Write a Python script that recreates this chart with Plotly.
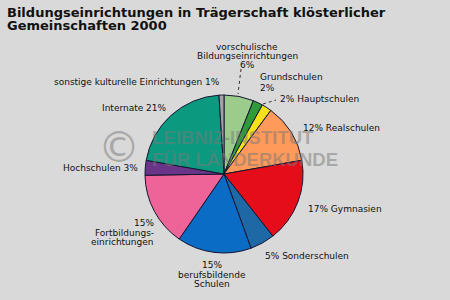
import plotly.graph_objects as go

W, H = 450, 300

categories = ["vorschulische Bildungseinrichtungen", "Grundschulen", "Hauptschulen",
              "Realschulen", "Gymnasien", "Sonderschulen", "berufsbildende Schulen",
              "Fortbildungseinrichtungen", "Hochschulen", "Internate",
              "sonstige kulturelle Einrichtungen"]
values = [6, 2, 2, 12, 17, 5, 15, 15, 3, 21, 1]
label_lines = [
    ["vorschulische", "Bildungseinrichtungen", "{v}%"],
    ["Grundschulen", "{v}%"],
    ["{v}% Hauptschulen"],
    ["{v}% Realschulen"],
    ["{v}% Gymnasien"],
    ["{v}% Sonderschulen"],
    ["{v}%", "berufsbildende", "Schulen"],
    ["{v}%", "Fortbildungs-", "einrichtungen"],
    ["Hochschulen {v}%"],
    ["Internate {v}%"],
    ["sonstige kulturelle Einrichtungen {v}%"],
]
colors = ["#9ccc8c", "#2f9a3a", "#f5e21a", "#ff9a5a", "#e50d1a", "#1f68a6",
          "#0a6cc4", "#ee6499", "#6a3588", "#0b9a80", "#a3a3a3"]

# label placement (pixel anchor x, first-line y, line step, x-anchor)
label_pos = [
    (247, 47, 9, "center"),
    (258, 77, 11, "left"),
    (278, 99, 0, "left"),
    (301, 128, 0, "left"),
    (306, 209, 0, "left"),
    (263, 256, 0, "left"),
    (212, 265, 9.5, "center"),
    (156, 223, 9.5, "right"),
    (140, 168, 0, "right"),
    (169, 108, 0, "right"),
    (222, 82, 0, "right"),
]

def px(x):
    return x / W

def py(y):
    return 1 - y / H

cx, cy, r = 224, 174, 79

fig = go.Figure(go.Pie(
    labels=categories, values=values, sort=False, direction="clockwise",
    rotation=0, textinfo="none", hoverinfo="skip",
    marker=dict(colors=colors, line=dict(color="#151530", width=1)),
    domain=dict(x=[px(cx - r), px(cx + r)], y=[py(cy + r), py(cy - r)]),
    showlegend=False,
))

annotations = []
lab_font = dict(family="DejaVu Sans", size=9, color="#111111")
for lines, v, (x0, y0, step, anch) in zip(label_lines, values, label_pos):
    for i, line in enumerate(lines):
        annotations.append(dict(
            x=px(x0), y=py(y0 + i * step), xref="paper", yref="paper",
            text=line.format(v=v), showarrow=False, xanchor=anch, yanchor="middle",
            font=lab_font))

# title
title_font = dict(family="DejaVu Sans", size=13, color="#111111", weight="bold")
for i, t in enumerate(["Bildungseinrichtungen in Trägerschaft klösterlicher",
                       "Gemeinschaften 2000"]):
    annotations.append(dict(x=px(5), y=py(12 + 13 * i), xref="paper", yref="paper",
                            text=t, showarrow=False, xanchor="left", yanchor="middle",
                            font=title_font))

# watermark
wm_col = "rgba(120,120,120,0.5)"
annotations.append(dict(x=px(119), y=py(147), xref="paper", yref="paper", text="©",
                        showarrow=False, xanchor="center", yanchor="middle",
                        font=dict(family="DejaVu Sans", size=42, color=wm_col)))
for i, t in enumerate(["LEIBNIZ-INSTITUT", "FÜR LÄNDERKUNDE"]):
    annotations.append(dict(x=px(150), y=py(137 + 22 * i), xref="paper", yref="paper",
                            text="<b>" + t + "</b>", showarrow=False, xanchor="left",
                            yanchor="middle",
                            font=dict(family="Liberation Sans", size=18.5,
                                      color=wm_col)))

shapes = [
    dict(type="line", xref="paper", yref="paper", x0=px(241), y0=py(69), x1=px(238),
         y1=py(94), line=dict(color="#333333", width=1, dash="dot")),
    dict(type="line", xref="paper", yref="paper", x0=px(263), y0=py(104), x1=px(276),
         y1=py(100), line=dict(color="#333333", width=1, dash="dot")),
]

fig.update_layout(
    width=W, height=H, margin=dict(l=0, r=0, t=0, b=0),
    paper_bgcolor="#d9d9d9", plot_bgcolor="#d9d9d9",
    annotations=annotations, shapes=shapes,
)

fig.write_html("out.html")
